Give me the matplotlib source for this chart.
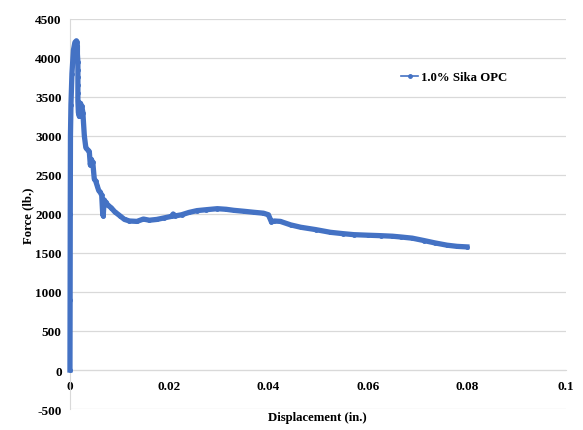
import matplotlib.pyplot as plt
import numpy as np

# Load-displacement data
displacement = [0.0, 0.00003, 0.00006, 0.0001, 0.0002, 0.0004, 0.0007, 0.0010, 0.0013, 0.0014,
                0.0015, 0.0015, 0.0016, 0.0016, 0.0016, 0.0016, 0.0016, 0.0016, 0.0017,
                0.0019, 0.0021, 0.0024, 0.0026, 0.0029, 0.0032, 0.0036, 0.0039, 0.0041,
                0.0043, 0.0046, 0.0049, 0.0052, 0.0055, 0.0058, 0.0061, 0.0064, 0.0066,
                0.0067, 0.0069, 0.0072, 0.0077, 0.0083, 0.0090, 0.0100, 0.0110, 0.0120,
                0.0135, 0.0148, 0.0160, 0.0175, 0.0190, 0.0205, 0.0208, 0.0212, 0.0225,
                0.0240, 0.0256, 0.0275, 0.0297, 0.0315, 0.0330, 0.0350, 0.0370, 0.0390,
                0.0400, 0.0406, 0.0412, 0.0424, 0.0445, 0.0465, 0.0495, 0.0525, 0.0550,
                0.0572, 0.0600, 0.0626, 0.0650, 0.0667, 0.0690, 0.0713, 0.0735, 0.0760,
                0.0780, 0.0800]
force = [0, 900, 2000, 3000, 3400, 3800, 4100, 4200, 4220, 4210,
         4150, 4050, 3950, 3850, 3750, 3650, 3550, 3450, 3300,
         3250, 3420, 3380, 3300, 3000, 2850, 2820, 2800, 2630,
         2700, 2660, 2450, 2420, 2360, 2300, 2280, 2240, 2000,
         1975, 2180, 2150, 2110, 2080, 2030, 1980, 1930, 1910,
         1905, 1935, 1920, 1930, 1950, 1970, 2000, 1975, 1990,
         2020, 2043, 2055, 2068, 2060, 2047, 2035, 2022, 2010,
         1990, 1900, 1910, 1905, 1860, 1830, 1800, 1765, 1748,
         1735, 1728, 1722, 1715, 1705, 1690, 1660, 1630, 1600,
         1585, 1578]

label = '1.0% Sika OPC'
x_ticks = [0, 0.02, 0.04, 0.06, 0.08, 0.1]
y_ticks = list(range(-500, 4501, 500))

plt.rcParams['font.family'] = ['Liberation Serif', 'DejaVu Serif']
plt.rcParams['axes.unicode_minus'] = False

fig = plt.figure(figsize=(5.83, 4.31), dpi=100)
ax = fig.add_axes([0.120, 0.0487, 0.851, 0.905])

ax.plot(displacement, force, color='#4472C4', lw=3.8, marker='o', ms=2.5,
        mec='#4472C4', mfc='#4472C4', label=label, solid_joinstyle='round',
        clip_on=False, zorder=3)

ax.set_xlim(0, 0.1)
ax.set_ylim(-500, 4500)
ax.set_xticks(x_ticks)
ax.set_xticklabels(['0', '0.02', '0.04', '0.06', '0.08', '0.1'])
ax.set_yticks(y_ticks)
ax.grid(axis='y', color='#d9d9d9', lw=0.9)
ax.set_axisbelow(True)

for s in ['top', 'right']:
    ax.spines[s].set_visible(False)
ax.spines['bottom'].set_position(('data', 0))
ax.spines['bottom'].set_color('#d9d9d9')
ax.spines['left'].set_color('#d9d9d9')
ax.tick_params(length=0, labelsize=9.5, pad=6)
for t in ax.get_xticklabels() + ax.get_yticklabels():
    t.set_fontweight('bold')
ax.tick_params(axis='x', pad=7)

fig.text(0.545, 0.030, 'Displacement (in.)', ha='center', va='center',
         fontsize=9.2, fontweight='bold')
fig.text(0.048, 0.50, 'Force (lb.)', ha='center', va='center', rotation=90,
         fontsize=9.2, fontweight='bold')

ax.legend(loc='upper left', bbox_to_anchor=(0.645, 0.895), frameon=False,
          prop={'weight': 'bold', 'size': 9.2}, handlelength=1.3,
          handletextpad=0.2, markerscale=1.0)
leg = ax.get_legend()
for h in leg.legend_handles:
    h.set_linewidth(1.2)

fig.savefig('out.png', dpi=100)
